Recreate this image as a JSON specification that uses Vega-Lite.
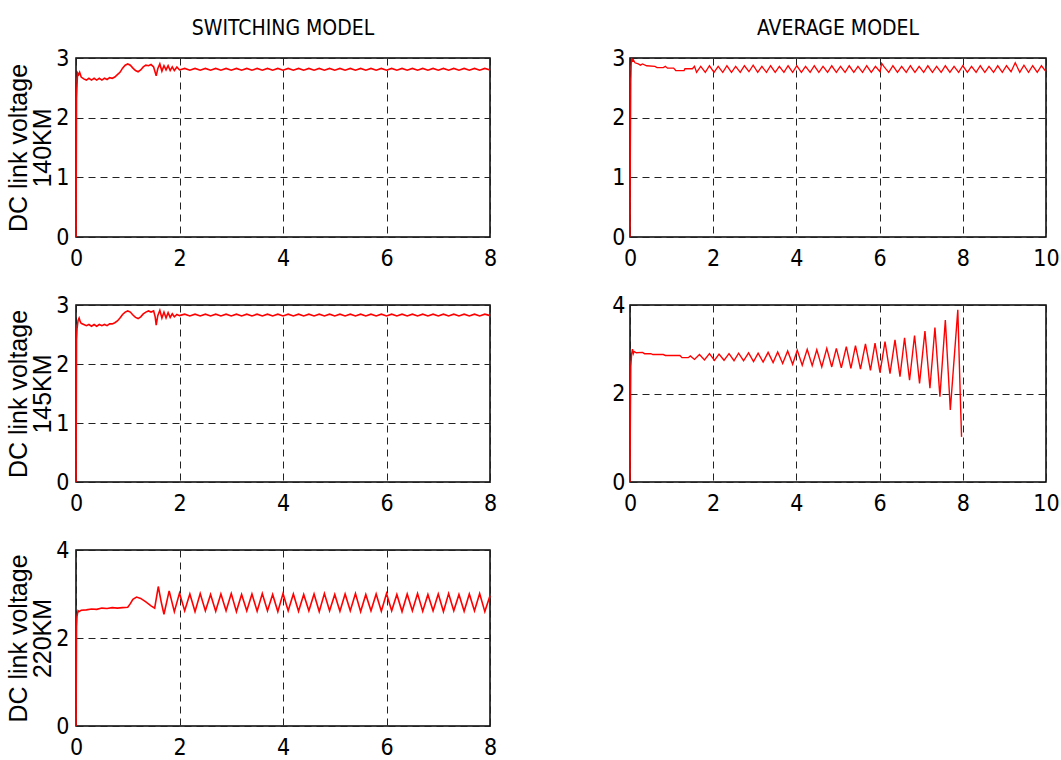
{
  "$schema": "https://vega.github.io/schema/vega-lite/v6.json",
  "padding": {"left": 6, "top": 17, "right": 0, "bottom": 0},
  "background": "white",
  "config": {
    "font": "DejaVu Sans Condensed, Liberation Sans, sans-serif",
    "view": {"stroke": "#000", "strokeWidth": 1.5},
    "axis": {"grid": true, "gridColor": "#222", "gridDash": [7, 5], "gridWidth": 1, "gridOpacity": 1, "domain": false, "ticks": false, "labelFont": "DejaVu Sans Condensed, Liberation Sans, sans-serif", "labelFontSize": 23, "labelColor": "#000"},
    "axisX": {"labelFlush": false, "labelPadding": 10},
    "axisY": {"labelPadding": 7},
    "line": {"color": "#ff0000", "strokeWidth": 1.6, "clip": true},
    "title": {"font": "DejaVu Sans Condensed, Liberation Sans, sans-serif", "fontSize": 21, "fontWeight": "normal", "color": "#000", "frame": "group", "anchor": "middle", "offset": 8}
  },
  "datasets": {
    "sw140": [
      {"t":0,"v":0},{"t":0.005,"v":1.2},{"t":0.01,"v":2.33},{"t":0.02,"v":2.55},{"t":0.03,"v":2.75},{"t":0.05,"v":2.72},{"t":0.07,"v":2.76},{"t":0.1,"v":2.68},{"t":0.15,"v":2.65},{"t":0.2,"v":2.63},{"t":0.25,"v":2.66},{"t":0.3,"v":2.63},{"t":0.35,"v":2.66},{"t":0.4,"v":2.63},{"t":0.45,"v":2.66},{"t":0.5,"v":2.63},{"t":0.55,"v":2.66},{"t":0.6,"v":2.64},{"t":0.65,"v":2.67},{"t":0.7,"v":2.66},{"t":0.75,"v":2.68},{"t":0.8,"v":2.72},{"t":0.85,"v":2.76},{"t":0.9,"v":2.83},{"t":0.95,"v":2.88},{"t":1.0,"v":2.9},{"t":1.05,"v":2.88},{"t":1.1,"v":2.83},{"t":1.15,"v":2.79},{"t":1.2,"v":2.77},{"t":1.25,"v":2.8},{"t":1.3,"v":2.85},{"t":1.35,"v":2.88},{"t":1.4,"v":2.87},{"t":1.45,"v":2.89},{"t":1.5,"v":2.85},{"t":1.55,"v":2.7},{"t":1.58,"v":2.82},{"t":1.62,"v":2.9},{"t":1.66,"v":2.78},{"t":1.7,"v":2.87},{"t":1.74,"v":2.8},{"t":1.78,"v":2.87},{"t":1.82,"v":2.79},{"t":1.86,"v":2.85},{"t":1.9,"v":2.79},{"t":1.95,"v":2.85},{"t":2.0,"v":2.8},
      {"t":2.1,"v":2.825},{"t":2.2,"v":2.795},{"t":2.3,"v":2.825},{"t":2.4,"v":2.795},{"t":2.5,"v":2.825},{"t":2.6,"v":2.795},{"t":2.7,"v":2.825},{"t":2.8,"v":2.795},{"t":2.9,"v":2.825},{"t":3.0,"v":2.795},{"t":3.1,"v":2.825},{"t":3.2,"v":2.795},{"t":3.3,"v":2.825},{"t":3.4,"v":2.795},{"t":3.5,"v":2.825},{"t":3.6,"v":2.795},{"t":3.7,"v":2.825},{"t":3.8,"v":2.795},{"t":3.9,"v":2.825},{"t":4.0,"v":2.795},{"t":4.1,"v":2.825},{"t":4.2,"v":2.795},{"t":4.3,"v":2.825},{"t":4.4,"v":2.795},{"t":4.5,"v":2.825},{"t":4.6,"v":2.795},{"t":4.7,"v":2.825},{"t":4.8,"v":2.795},{"t":4.9,"v":2.825},{"t":5.0,"v":2.795},{"t":5.1,"v":2.825},{"t":5.2,"v":2.795},{"t":5.3,"v":2.825},{"t":5.4,"v":2.795},{"t":5.5,"v":2.825},{"t":5.6,"v":2.795},{"t":5.7,"v":2.825},{"t":5.8,"v":2.795},{"t":5.9,"v":2.825},{"t":6.0,"v":2.795},{"t":6.1,"v":2.825},{"t":6.2,"v":2.795},{"t":6.3,"v":2.825},{"t":6.4,"v":2.795},{"t":6.5,"v":2.825},{"t":6.6,"v":2.795},{"t":6.7,"v":2.825},{"t":6.8,"v":2.795},{"t":6.9,"v":2.825},{"t":7.0,"v":2.795},{"t":7.1,"v":2.825},{"t":7.2,"v":2.795},{"t":7.3,"v":2.825},{"t":7.4,"v":2.795},{"t":7.5,"v":2.825},{"t":7.6,"v":2.795},{"t":7.7,"v":2.825},{"t":7.8,"v":2.795},{"t":7.9,"v":2.825},{"t":8.0,"v":2.8}
    ],
    "sw145": [
      {"t":0,"v":0},{"t":0.005,"v":1.2},{"t":0.01,"v":2.41},{"t":0.02,"v":2.6},{"t":0.04,"v":2.74},{"t":0.06,"v":2.78},{"t":0.08,"v":2.72},{"t":0.1,"v":2.69},{"t":0.15,"v":2.67},{"t":0.2,"v":2.65},{"t":0.25,"v":2.67},{"t":0.3,"v":2.64},{"t":0.35,"v":2.67},{"t":0.4,"v":2.64},{"t":0.45,"v":2.67},{"t":0.5,"v":2.65},{"t":0.55,"v":2.67},{"t":0.6,"v":2.65},{"t":0.65,"v":2.68},{"t":0.7,"v":2.68},{"t":0.75,"v":2.7},{"t":0.8,"v":2.73},{"t":0.85,"v":2.78},{"t":0.9,"v":2.84},{"t":0.95,"v":2.88},{"t":1.0,"v":2.9},{"t":1.05,"v":2.88},{"t":1.1,"v":2.83},{"t":1.15,"v":2.79},{"t":1.2,"v":2.77},{"t":1.25,"v":2.8},{"t":1.3,"v":2.85},{"t":1.35,"v":2.88},{"t":1.4,"v":2.9},{"t":1.45,"v":2.88},{"t":1.5,"v":2.9},{"t":1.53,"v":2.8},{"t":1.55,"v":2.66},{"t":1.58,"v":2.82},{"t":1.62,"v":2.91},{"t":1.66,"v":2.78},{"t":1.7,"v":2.88},{"t":1.74,"v":2.78},{"t":1.78,"v":2.87},{"t":1.82,"v":2.79},{"t":1.86,"v":2.85},{"t":1.9,"v":2.8},{"t":1.95,"v":2.84},{"t":2.0,"v":2.82},
      {"t":2.1,"v":2.845},{"t":2.2,"v":2.815},{"t":2.3,"v":2.845},{"t":2.4,"v":2.815},{"t":2.5,"v":2.845},{"t":2.6,"v":2.815},{"t":2.7,"v":2.845},{"t":2.8,"v":2.815},{"t":2.9,"v":2.845},{"t":3.0,"v":2.815},{"t":3.1,"v":2.845},{"t":3.2,"v":2.815},{"t":3.3,"v":2.845},{"t":3.4,"v":2.815},{"t":3.5,"v":2.845},{"t":3.6,"v":2.815},{"t":3.7,"v":2.845},{"t":3.8,"v":2.815},{"t":3.9,"v":2.845},{"t":4.0,"v":2.815},{"t":4.1,"v":2.845},{"t":4.2,"v":2.815},{"t":4.3,"v":2.845},{"t":4.4,"v":2.815},{"t":4.5,"v":2.845},{"t":4.6,"v":2.815},{"t":4.7,"v":2.845},{"t":4.8,"v":2.815},{"t":4.9,"v":2.845},{"t":5.0,"v":2.815},{"t":5.1,"v":2.845},{"t":5.2,"v":2.815},{"t":5.3,"v":2.845},{"t":5.4,"v":2.815},{"t":5.5,"v":2.845},{"t":5.6,"v":2.815},{"t":5.7,"v":2.845},{"t":5.8,"v":2.815},{"t":5.9,"v":2.845},{"t":6.0,"v":2.815},{"t":6.1,"v":2.845},{"t":6.2,"v":2.815},{"t":6.3,"v":2.845},{"t":6.4,"v":2.815},{"t":6.5,"v":2.845},{"t":6.6,"v":2.815},{"t":6.7,"v":2.845},{"t":6.8,"v":2.815},{"t":6.9,"v":2.845},{"t":7.0,"v":2.815},{"t":7.1,"v":2.845},{"t":7.2,"v":2.815},{"t":7.3,"v":2.845},{"t":7.4,"v":2.815},{"t":7.5,"v":2.845},{"t":7.6,"v":2.815},{"t":7.7,"v":2.845},{"t":7.8,"v":2.815},{"t":7.9,"v":2.845},{"t":8.0,"v":2.82}
    ],
    "sw220": [
      {"t":0,"v":0},{"t":0.005,"v":1.1},{"t":0.01,"v":2.27},{"t":0.02,"v":2.5},{"t":0.04,"v":2.62},{"t":0.06,"v":2.6},{"t":0.1,"v":2.63},{"t":0.2,"v":2.64},{"t":0.3,"v":2.66},{"t":0.4,"v":2.65},{"t":0.5,"v":2.68},{"t":0.6,"v":2.67},{"t":0.7,"v":2.69},{"t":0.8,"v":2.68},{"t":0.9,"v":2.69},{"t":1.0,"v":2.7},{"t":1.05,"v":2.78},{"t":1.1,"v":2.88},{"t":1.17,"v":2.93},{"t":1.25,"v":2.9},{"t":1.35,"v":2.82},{"t":1.45,"v":2.73},{"t":1.52,"v":2.68},{"t":1.59,"v":3.17},{"t":1.65,"v":2.8},{"t":1.7,"v":2.54},{"t":1.8,"v":3.07},{"t":1.9,"v":2.6},
      {"t":2.0,"v":3.02},{"t":2.1,"v":2.62},{"t":2.2,"v":3.0},{"t":2.3,"v":2.6},{"t":2.4,"v":3.01},{"t":2.5,"v":2.62},{"t":2.6,"v":2.99},{"t":2.7,"v":2.61},{"t":2.8,"v":3.0},{"t":2.9,"v":2.62},{"t":3.0,"v":3.01},{"t":3.1,"v":2.6},{"t":3.2,"v":2.99},{"t":3.3,"v":2.62},{"t":3.4,"v":3.0},{"t":3.5,"v":2.61},{"t":3.6,"v":3.01},{"t":3.7,"v":2.62},{"t":3.8,"v":2.99},{"t":3.9,"v":2.6},{"t":4.0,"v":3.01},{"t":4.1,"v":2.62},{"t":4.2,"v":3.0},{"t":4.3,"v":2.61},{"t":4.4,"v":2.99},{"t":4.5,"v":2.62},{"t":4.6,"v":3.0},{"t":4.7,"v":2.6},{"t":4.8,"v":3.01},{"t":4.9,"v":2.62},{"t":5.0,"v":2.99},{"t":5.1,"v":2.61},{"t":5.2,"v":3.0},{"t":5.3,"v":2.62},{"t":5.4,"v":3.01},{"t":5.5,"v":2.6},{"t":5.6,"v":2.99},{"t":5.7,"v":2.62},{"t":5.8,"v":3.0},{"t":5.9,"v":2.61},{"t":6.0,"v":3.01},{"t":6.1,"v":2.62},{"t":6.2,"v":2.99},{"t":6.3,"v":2.6},{"t":6.4,"v":3.0},{"t":6.5,"v":2.62},{"t":6.6,"v":3.01},{"t":6.7,"v":2.61},{"t":6.8,"v":2.99},{"t":6.9,"v":2.62},{"t":7.0,"v":3.0},{"t":7.1,"v":2.6},{"t":7.2,"v":3.01},{"t":7.3,"v":2.62},{"t":7.4,"v":2.99},{"t":7.5,"v":2.61},{"t":7.6,"v":3.0},{"t":7.7,"v":2.62},{"t":7.8,"v":3.01},{"t":7.9,"v":2.6},{"t":8.0,"v":2.96}
    ],
    "av140": [
      {"t":0,"v":0},{"t":0.01,"v":1.5},{"t":0.02,"v":2.58},{"t":0.03,"v":2.9},{"t":0.04,"v":3.0},{"t":0.06,"v":2.95},{"t":0.08,"v":2.97},{"t":0.12,"v":2.92},{"t":0.2,"v":2.9},{"t":0.25,"v":2.88},{"t":0.3,"v":2.9},{"t":0.4,"v":2.87},{"t":0.6,"v":2.86},{"t":0.65,"v":2.84},{"t":0.8,"v":2.84},{"t":0.85,"v":2.86},{"t":0.9,"v":2.83},{"t":1.05,"v":2.83},{"t":1.1,"v":2.79},{"t":1.3,"v":2.79},{"t":1.32,"v":2.82},{"t":1.5,"v":2.82},{"t":1.55,"v":2.86},{"t":1.6,"v":2.76},
      {"t":1.7,"v":2.86},{"t":1.81,"v":2.76},{"t":1.91,"v":2.87},{"t":2.02,"v":2.76},{"t":2.12,"v":2.86},{"t":2.23,"v":2.76},{"t":2.33,"v":2.87},{"t":2.44,"v":2.76},{"t":2.54,"v":2.86},{"t":2.65,"v":2.76},{"t":2.75,"v":2.87},{"t":2.86,"v":2.77},{"t":2.96,"v":2.88},{"t":3.07,"v":2.76},{"t":3.17,"v":2.86},{"t":3.28,"v":2.76},{"t":3.38,"v":2.87},{"t":3.49,"v":2.76},{"t":3.59,"v":2.86},{"t":3.7,"v":2.76},{"t":3.8,"v":2.87},{"t":3.91,"v":2.76},{"t":4.01,"v":2.87},{"t":4.12,"v":2.76},{"t":4.22,"v":2.86},{"t":4.33,"v":2.76},{"t":4.43,"v":2.87},{"t":4.54,"v":2.76},{"t":4.64,"v":2.86},{"t":4.75,"v":2.76},{"t":4.85,"v":2.87},{"t":4.96,"v":2.76},{"t":5.06,"v":2.86},{"t":5.17,"v":2.76},{"t":5.27,"v":2.87},{"t":5.38,"v":2.76},{"t":5.48,"v":2.86},{"t":5.59,"v":2.76},{"t":5.69,"v":2.87},{"t":5.8,"v":2.76},{"t":5.9,"v":2.86},{"t":6.01,"v":2.77},{"t":6.05,"v":2.91},{"t":6.11,"v":2.85},{"t":6.22,"v":2.76},{"t":6.32,"v":2.87},{"t":6.43,"v":2.76},{"t":6.53,"v":2.86},{"t":6.64,"v":2.76},{"t":6.74,"v":2.87},{"t":6.85,"v":2.76},{"t":6.95,"v":2.86},{"t":7.06,"v":2.76},{"t":7.16,"v":2.87},{"t":7.27,"v":2.76},{"t":7.37,"v":2.86},{"t":7.48,"v":2.76},{"t":7.58,"v":2.87},{"t":7.69,"v":2.76},{"t":7.79,"v":2.86},{"t":7.9,"v":2.76},{"t":8.0,"v":2.87},{"t":8.11,"v":2.76},{"t":8.21,"v":2.86},{"t":8.32,"v":2.76},{"t":8.42,"v":2.87},{"t":8.53,"v":2.76},{"t":8.63,"v":2.86},{"t":8.74,"v":2.76},{"t":8.84,"v":2.87},{"t":8.95,"v":2.76},{"t":9.05,"v":2.87},{"t":9.16,"v":2.77},{"t":9.26,"v":2.92},{"t":9.37,"v":2.76},{"t":9.47,"v":2.88},{"t":9.58,"v":2.76},{"t":9.68,"v":2.87},{"t":9.79,"v":2.76},{"t":9.89,"v":2.87},{"t":10.0,"v":2.77}
    ],
    "av145": [
      {"t":0,"v":0},{"t":0.01,"v":1.5},{"t":0.02,"v":2.6},{"t":0.04,"v":2.9},{"t":0.06,"v":3.0},{"t":0.08,"v":2.9},{"t":0.1,"v":2.95},{"t":0.15,"v":2.92},{"t":0.3,"v":2.93},{"t":0.35,"v":2.9},{"t":0.5,"v":2.9},{"t":0.55,"v":2.88},{"t":0.8,"v":2.88},{"t":0.85,"v":2.86},{"t":1.2,"v":2.86},{"t":1.25,"v":2.81},{"t":1.4,"v":2.81},{"t":1.45,"v":2.85},{"t":1.55,"v":2.77},
      {"t":1.67,"v":2.88},{"t":1.79,"v":2.76},{"t":1.91,"v":2.9},{"t":2.03,"v":2.75},{"t":2.14,"v":2.89},{"t":2.26,"v":2.75},{"t":2.38,"v":2.9},{"t":2.5,"v":2.74},{"t":2.61,"v":2.91},{"t":2.73,"v":2.74},{"t":2.85,"v":2.92},{"t":2.97,"v":2.72},{"t":3.08,"v":2.91},{"t":3.2,"v":2.71},{"t":3.32,"v":2.93},{"t":3.44,"v":2.7},{"t":3.55,"v":2.94},{"t":3.67,"v":2.68},{"t":3.79,"v":2.96},{"t":3.91,"v":2.66},{"t":4.02,"v":2.98},{"t":4.14,"v":2.64},{"t":4.26,"v":3.0},{"t":4.38,"v":2.63},{"t":4.49,"v":2.99},{"t":4.61,"v":2.6},{"t":4.73,"v":3.02},{"t":4.85,"v":2.6},{"t":4.96,"v":3.02},{"t":5.08,"v":2.58},{"t":5.2,"v":3.06},{"t":5.31,"v":2.57},{"t":5.42,"v":3.08},{"t":5.54,"v":2.55},{"t":5.66,"v":3.12},{"t":5.78,"v":2.52},{"t":5.89,"v":3.14},{"t":6.01,"v":2.47},{"t":6.13,"v":3.17},{"t":6.25,"v":2.45},{"t":6.37,"v":3.21},{"t":6.49,"v":2.38},{"t":6.6,"v":3.26},{"t":6.72,"v":2.3},{"t":6.84,"v":3.31},{"t":6.96,"v":2.23},{"t":7.09,"v":3.41},{"t":7.21,"v":2.12},{"t":7.33,"v":3.49},{"t":7.45,"v":1.93},{"t":7.58,"v":3.66},{"t":7.7,"v":1.63},{"t":7.88,"v":3.89},{"t":7.94,"v":1.93},{"t":7.97,"v":1.02}
    ]
  },
  "hconcat": [
    {
      "spacing": 22,
      "vconcat": [
        {
          "title": "SWITCHING MODEL",
          "width": 414, "height": 179,
          "data": {"name": "sw140"},
          "mark": "line",
          "encoding": {
            "x": {"field": "t", "type": "quantitative", "scale": {"domain": [0, 8], "nice": false}, "axis": {"title": null, "values": [0, 2, 4, 6, 8]}},
            "y": {"field": "v", "type": "quantitative", "scale": {"domain": [0, 3], "nice": false}, "axis": {"values": [0, 1, 2, 3], "title": ["DC link voltage", "140KM"], "titleFont": "Liberation Sans", "titleFontSize": 25, "titleFontWeight": "normal", "titleColor": "#000", "titleLineHeight": 24, "titlePadding": 0}}
          }
        },
        {
          "width": 414, "height": 177,
          "data": {"name": "sw145"},
          "mark": "line",
          "encoding": {
            "x": {"field": "t", "type": "quantitative", "scale": {"domain": [0, 8], "nice": false}, "axis": {"title": null, "values": [0, 2, 4, 6, 8]}},
            "y": {"field": "v", "type": "quantitative", "scale": {"domain": [0, 3], "nice": false}, "axis": {"values": [0, 1, 2, 3], "title": ["DC link voltage", "145KM"], "titleFont": "Liberation Sans", "titleFontSize": 25, "titleFontWeight": "normal", "titleColor": "#000", "titleLineHeight": 24, "titlePadding": 0}}
          }
        },
        {
          "width": 414, "height": 176,
          "data": {"name": "sw220"},
          "mark": "line",
          "encoding": {
            "x": {"field": "t", "type": "quantitative", "scale": {"domain": [0, 8], "nice": false}, "axis": {"title": null, "values": [0, 2, 4, 6, 8]}},
            "y": {"field": "v", "type": "quantitative", "scale": {"domain": [0, 4], "nice": false}, "axis": {"values": [0, 2, 4], "title": ["DC link voltage", "220KM"], "titleFont": "Liberation Sans", "titleFontSize": 25, "titleFontWeight": "normal", "titleColor": "#000", "titleLineHeight": 24, "titlePadding": 0}}
          }
        }
      ]
    },
    {
      "spacing": 22,
      "vconcat": [
        {
          "title": "AVERAGE MODEL",
          "width": 416, "height": 179,
          "data": {"name": "av140"},
          "mark": {"type": "line", "strokeWidth": 1.3},
          "encoding": {
            "x": {"field": "t", "type": "quantitative", "scale": {"domain": [0, 10], "nice": false}, "axis": {"title": null, "values": [0, 2, 4, 6, 8, 10]}},
            "y": {"field": "v", "type": "quantitative", "scale": {"domain": [0, 3], "nice": false}, "axis": {"title": null, "values": [0, 1, 2, 3], "labelPadding": 5}}
          }
        },
        {
          "width": 416, "height": 177,
          "data": {"name": "av145"},
          "mark": {"type": "line", "strokeWidth": 1.4},
          "encoding": {
            "x": {"field": "t", "type": "quantitative", "scale": {"domain": [0, 10], "nice": false}, "axis": {"title": null, "values": [0, 2, 4, 6, 8, 10]}},
            "y": {"field": "v", "type": "quantitative", "scale": {"domain": [0, 4], "nice": false}, "axis": {"title": null, "values": [0, 2, 4], "labelPadding": 5}}
          }
        }
      ]
    }
  ],
  "spacing": 113
}
